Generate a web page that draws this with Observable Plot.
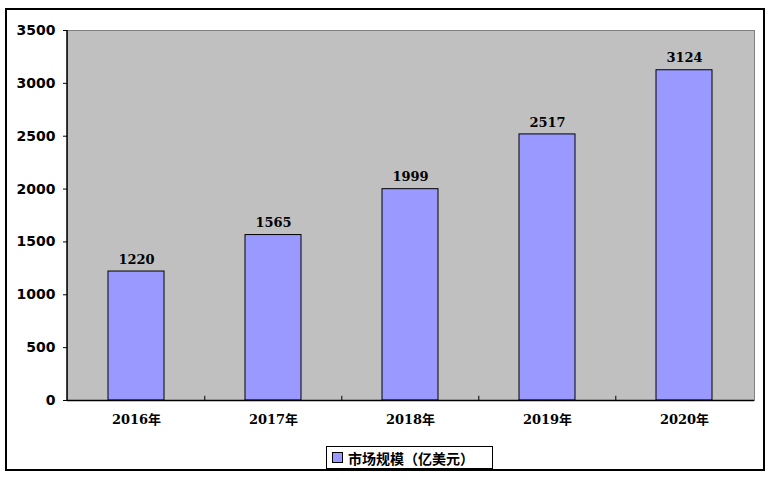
<!DOCTYPE html>
<html>
<head>
<meta charset="utf-8">
<script src="https://cdn.jsdelivr.net/npm/d3@7"></script>
<script src="https://cdn.jsdelivr.net/npm/@observablehq/plot@0.6"></script>
<style>
  body { margin: 0; background: #fff; }
  #wrap { position: relative; width: 773px; height: 480px; overflow: hidden; }
  #border { position: absolute; left: 5px; top: 8px; width: 760px; height: 463px; box-sizing: border-box; border: 2px solid #000; pointer-events: none; }
  #chart { position: absolute; left: 0; top: 0; }
  #legend { position: absolute; left: 326px; top: 446px; width: 167px; height: 23px; box-sizing: border-box; border: 1px solid #000; display: flex; align-items: center; padding-left: 5px; font: bold 14px "Noto Sans CJK SC", sans-serif; color: #000; }
  #legend .sw { width: 9px; height: 9px; background: #9999ff; border: 1px solid #000; margin-right: 5px; }
</style>
</head>
<body>
<div id="wrap">
  <div id="chart"></div>
  <div id="legend"><span class="sw"></span><span>市场规模（亿美元）</span></div>
  <div id="border"></div>
</div>
<script>
const years = ["2016年", "2017年", "2018年", "2019年", "2020年"];
const values = [1220, 1565, 1999, 2517, 3124];
const yTicks = [0, 500, 1000, 1500, 2000, 2500, 3000, 3500];
const seriesName = "市场规模（亿美元）";

const data = years.map((y, i) => ({year: y, value: values[i]}));

const W = 773, H = 435, mL = 67, mR = 19, mT = 30, mB = 35;
const step = (W - mL - mR) / years.length;

const chart = Plot.plot({
  width: W,
  height: H,
  marginLeft: mL,
  marginRight: mR,
  marginTop: mT,
  marginBottom: mB,
  style: {background: "transparent", overflow: "visible"},
  x: {domain: years, paddingInner: 0.59, paddingOuter: 0.295, label: null},
  y: {domain: [0, 3500], label: null},
  marks: [
    Plot.frame({fill: "#c0c0c0", stroke: "#808080", strokeWidth: 1}),
    Plot.barY(data, {x: "year", y: "value", fill: "#9999ff", stroke: "#000", strokeWidth: 1}),
    Plot.ruleX(years.slice(1), {x: d => d, y1: 0, y2: 40, dx: -step / 2, stroke: "#000"}),
    Plot.ruleY([0], {stroke: "#000", strokeWidth: 1.5}),
    Plot.axisY({ticks: yTicks, tickSize: 4, tickPadding: 8, tickFormat: d => String(d), fontFamily: "DejaVu Sans", fontWeight: "bold", fontSize: 14, stroke: "#000", color: "#000"}),
    Plot.axisX({tickSize: 0, tickPadding: 14, fontFamily: "DejaVu Serif, Noto Sans CJK SC", fontWeight: "bold", fontSize: 13, color: "#000"}),
    Plot.text(data, {x: "year", y: "value", text: d => String(d.value), dy: -12, fontFamily: "DejaVu Serif", fontWeight: "bold", fontSize: 13, fill: "#000"}),
    () => {
      const ns = "http://www.w3.org/2000/svg";
      const l = document.createElementNS(ns, "line");
      l.setAttribute("x1", mL); l.setAttribute("x2", mL);
      l.setAttribute("y1", mT); l.setAttribute("y2", H - mB);
      l.setAttribute("stroke", "#000"); l.setAttribute("stroke-width", "1.5");
      return l;
    }
  ]
});
document.getElementById("chart").appendChild(chart);
</script>
</body>
</html>
